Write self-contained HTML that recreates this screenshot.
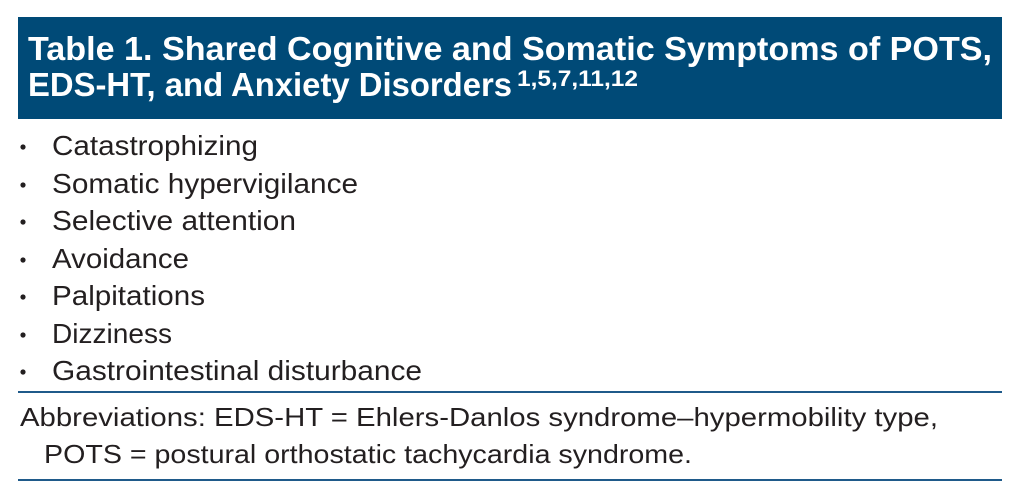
<!DOCTYPE html>
<html><head><meta charset="utf-8"><style>
html,body{margin:0;padding:0;background:#fff;}
svg{display:block;}
text{font-family:"Liberation Sans",sans-serif;}
</style></head><body>
<svg width="1024" height="500" viewBox="0 0 1024 500" xmlns="http://www.w3.org/2000/svg">
<rect x="18" y="17" width="984" height="102" fill="#004a77"/>
<text x="28" y="60" font-size="33" font-weight="bold" fill="#fff" textLength="964" lengthAdjust="spacingAndGlyphs">Table 1. Shared Cognitive and Somatic Symptoms of POTS,</text>
<text x="28" y="96" font-size="33" font-weight="bold" fill="#fff" textLength="484" lengthAdjust="spacingAndGlyphs">EDS-HT, and Anxiety Disorders</text>
<text x="517" y="86" font-size="22" font-weight="bold" fill="#fff" textLength="121" lengthAdjust="spacingAndGlyphs">1,5,7,11,12</text>
<g fill="#231f20" font-size="28">
<circle cx="23" cy="147" r="2.6"/><text x="52" y="155" textLength="206" lengthAdjust="spacingAndGlyphs">Catastrophizing</text>
<circle cx="23" cy="185" r="2.6"/><text x="52" y="193" textLength="306" lengthAdjust="spacingAndGlyphs">Somatic hypervigilance</text>
<circle cx="23" cy="222" r="2.6"/><text x="52" y="230" textLength="244" lengthAdjust="spacingAndGlyphs">Selective attention</text>
<circle cx="23" cy="260" r="2.6"/><text x="52" y="268" textLength="137" lengthAdjust="spacingAndGlyphs">Avoidance</text>
<circle cx="23" cy="297" r="2.6"/><text x="52" y="305" textLength="153" lengthAdjust="spacingAndGlyphs">Palpitations</text>
<circle cx="23" cy="335" r="2.6"/><text x="52" y="343" textLength="120" lengthAdjust="spacingAndGlyphs">Dizziness</text>
<circle cx="23" cy="372" r="2.6"/><text x="52" y="380" textLength="370" lengthAdjust="spacingAndGlyphs">Gastrointestinal disturbance</text>
</g>
<rect x="18" y="391" width="984" height="2" fill="#1f5a8a"/>
<text x="20" y="426" font-size="26" fill="#231f20" textLength="918" lengthAdjust="spacingAndGlyphs">Abbreviations: EDS-HT = Ehlers-Danlos syndrome–hypermobility type,</text>
<text x="44" y="463" font-size="26" fill="#231f20" textLength="648" lengthAdjust="spacingAndGlyphs">POTS = postural orthostatic tachycardia syndrome.</text>
<rect x="18" y="479" width="984" height="2" fill="#1f5a8a"/>
</svg>
</body></html>
